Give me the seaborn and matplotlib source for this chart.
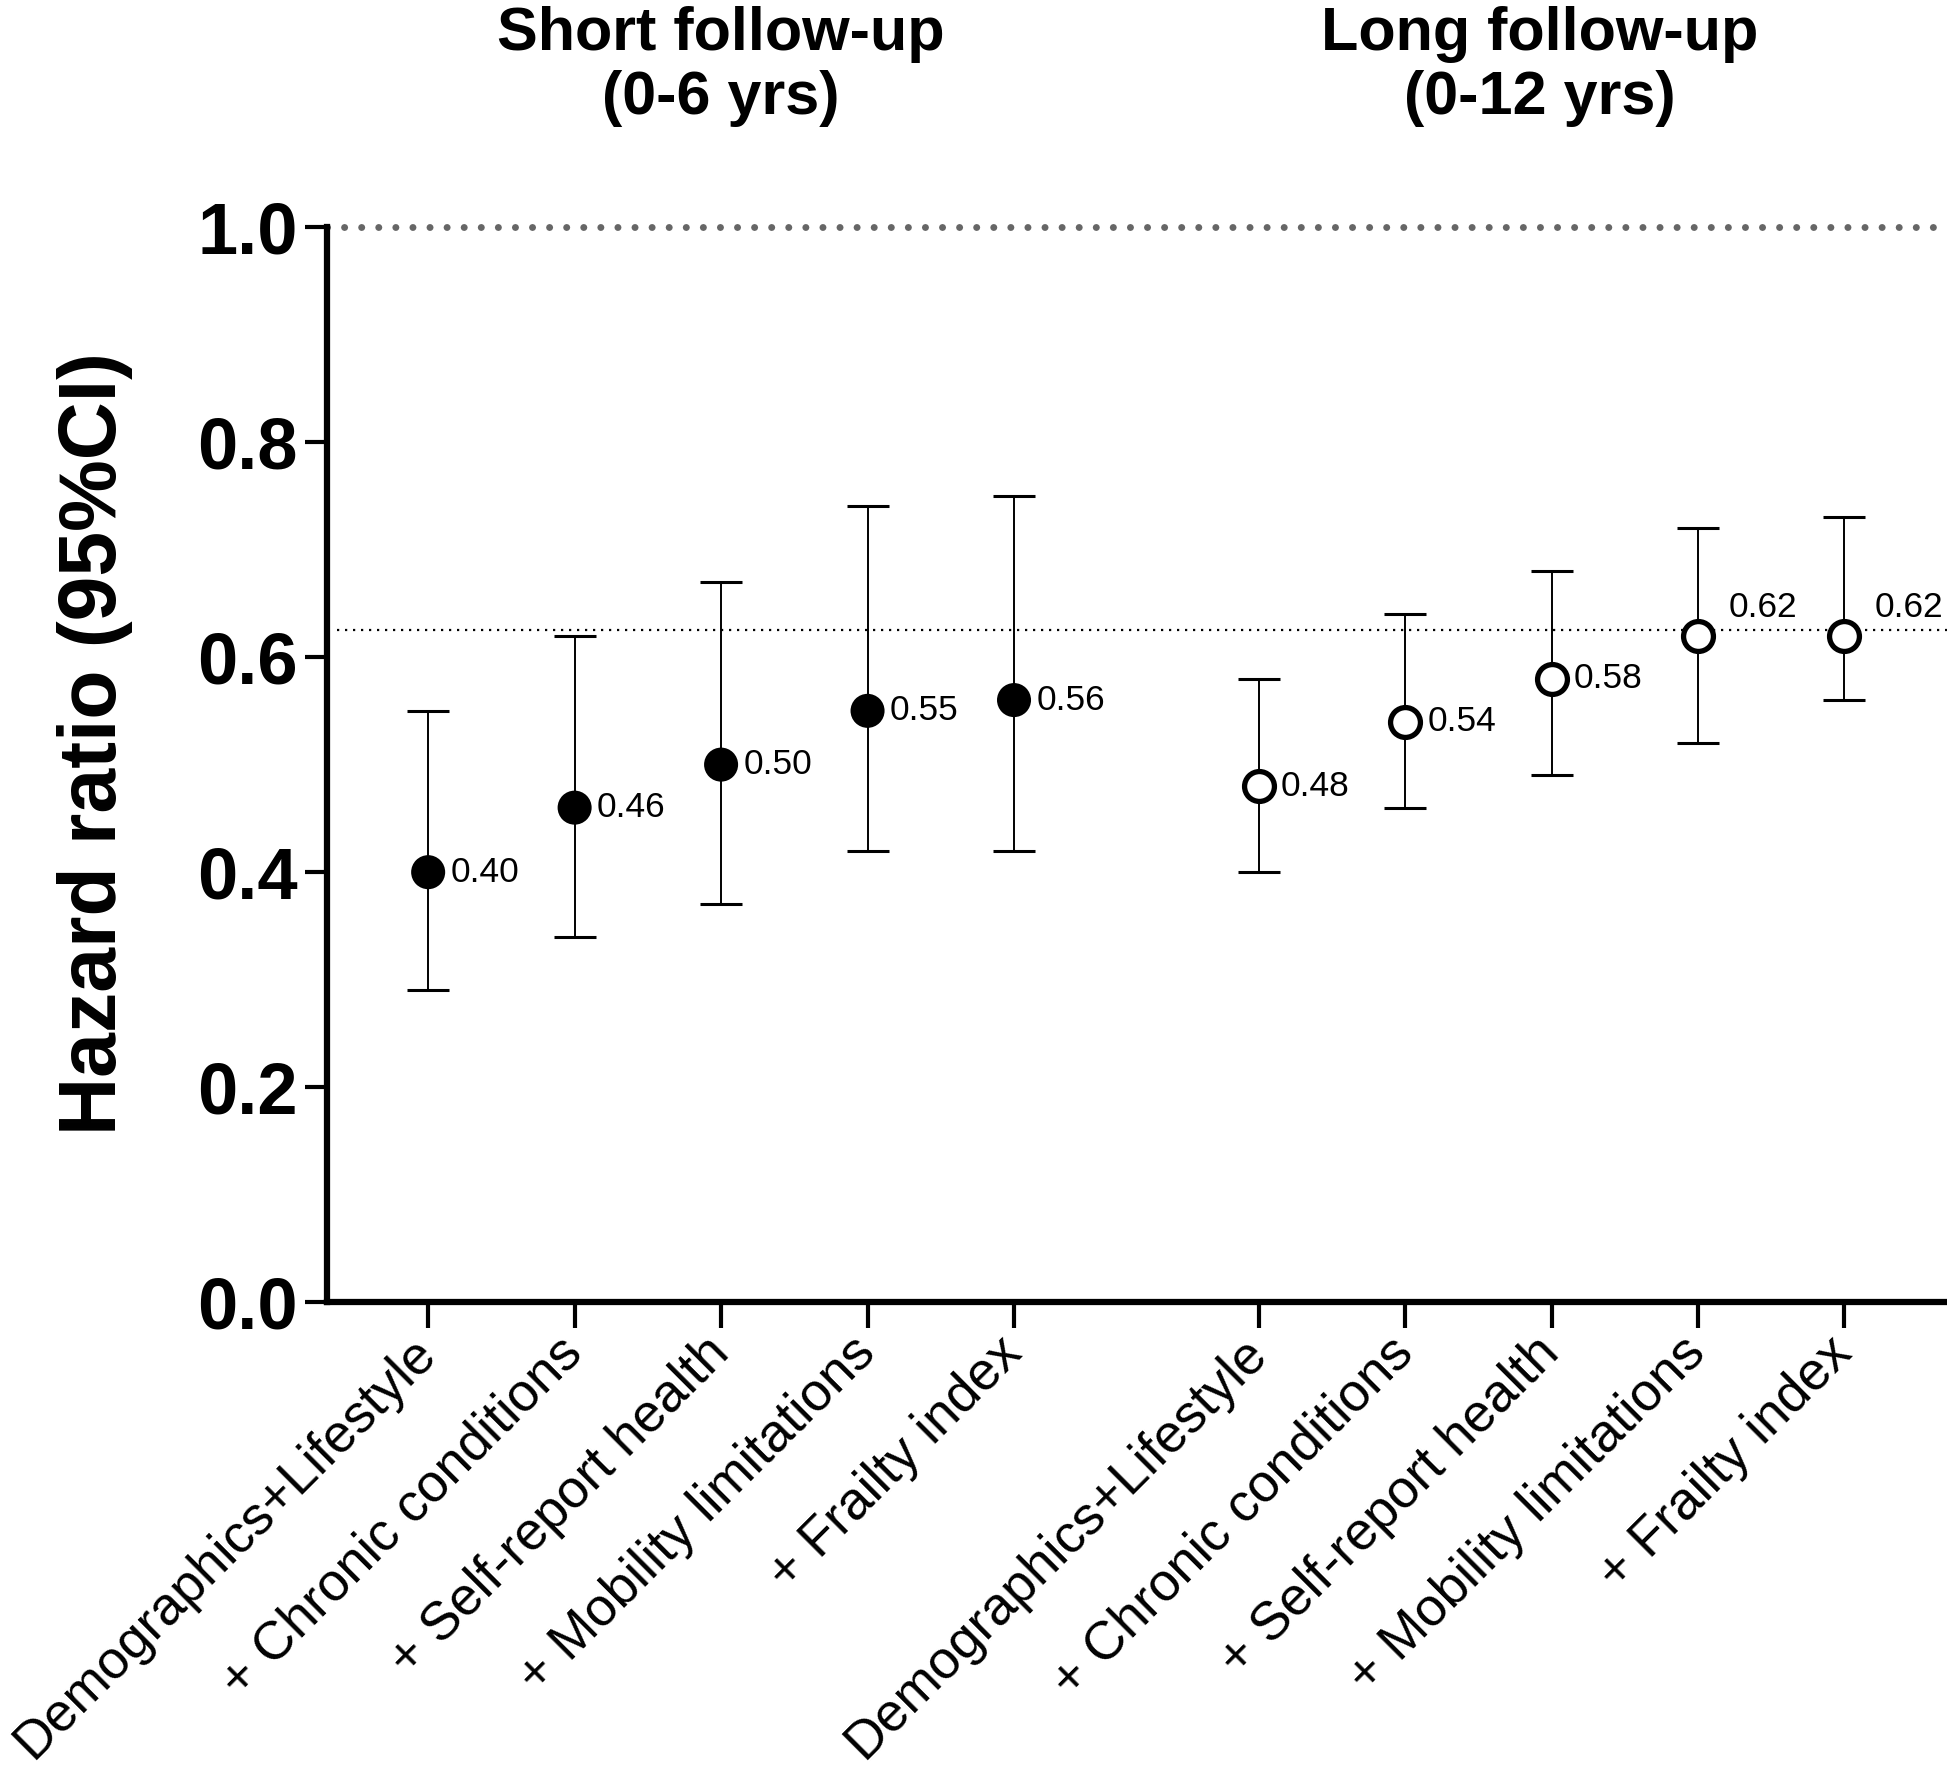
import matplotlib
matplotlib.use("Agg")
import matplotlib.pyplot as plt
import matplotlib.transforms as mtransforms
from matplotlib import font_manager
import seaborn as sns
import pandas as pd
import numpy as np

# Data
models = ["Demographics+Lifestyle", "+ Chronic conditions", "+ Self-report health",
          "+ Mobility limitations", "+ Frailty index"]
short_hr = [0.40, 0.46, 0.50, 0.55, 0.56]
short_lo = [0.29, 0.34, 0.37, 0.42, 0.42]
short_hi = [0.55, 0.62, 0.67, 0.74, 0.75]
long_hr = [0.48, 0.54, 0.58, 0.62, 0.62]
long_lo = [0.40, 0.46, 0.49, 0.52, 0.56]
long_hi = [0.58, 0.64, 0.68, 0.72, 0.73]
ref_hr = 0.625
group_titles = ["Short follow-up", "Long follow-up"]
group_periods = ["(0-6 yrs)", "(0-12 yrs)"]

sns.set_style("ticks")
names = {f.name for f in font_manager.fontManager.ttflist}
NARROW = "Liberation Sans Narrow" if "Liberation Sans Narrow" in names else "Liberation Sans"
plt.rcParams["font.family"] = ["Liberation Sans", "DejaVu Sans"]
for key in ["text.color", "axes.labelcolor", "xtick.color", "ytick.color", "axes.edgecolor"]:
    plt.rcParams[key] = "black"

gap = 1.67
n = len(models)
pos_short = np.arange(n)
pos_long = np.arange(n) + n - 1 + gap

df = pd.concat([
    pd.DataFrame({"x": pos_short, "hr": short_hr, "lo": short_lo, "hi": short_hi,
                  "group": "short", "label": models}),
    pd.DataFrame({"x": pos_long, "hr": long_hr, "lo": long_lo, "hi": long_hi,
                  "group": "long", "label": models}),
], ignore_index=True)

fig = plt.figure(figsize=(19.47, 17.72), dpi=100)
ax = fig.add_axes([0.168, 0.265, 0.832, 0.607])

# confidence intervals
ax.errorbar(df["x"], df["hr"], yerr=[df["hr"] - df["lo"], df["hi"] - df["hr"]],
            fmt="none", ecolor="black", elinewidth=1.4, capsize=15, capthick=2.2, zorder=2)

# points
sns.scatterplot(data=df[df.group == "short"], x="x", y="hr", s=24.5 ** 2, color="black",
                edgecolor="none", ax=ax, zorder=3, legend=False)
sns.scatterplot(data=df[df.group == "long"], x="x", y="hr", s=21.5 ** 2, color="white",
                edgecolor="black", linewidth=3.8, ax=ax, zorder=3, legend=False)

# value labels
for _, r in df.iterrows():
    if r.hr >= 0.6:
        off = (22, 20)
    else:
        off = (16, 0)
    ax.annotate(f"{r.hr:.2f}", (r.x, r.hr), xytext=off, textcoords="offset points",
                ha="left", va="center", fontsize=25.5, family=[NARROW, "DejaVu Sans"], zorder=4)

# reference lines
ax.axhline(1.0, color="#666666", lw=5, ls=(0, (0.01, 2.45)), dash_capstyle="round",
           clip_on=False, zorder=1)
ax.plot([-0.62, 10.5], [ref_hr, ref_hr], color="black", lw=1.6, ls=(0, (1, 2.6)), zorder=1)

ax.set_xlim(-0.69, 10.37)
ax.set_ylim(0, 1.0)
ax.set_yticks(np.arange(0, 1.01, 0.2))
ax.set_yticklabels([f"{v:.1f}" for v in np.arange(0, 1.01, 0.2)], fontsize=52, fontweight="bold")
ax.set_xticks(df["x"])
ax.set_xticklabels(df["label"], rotation=45, ha="right", va="center",
                   rotation_mode="anchor", fontsize=38.5)
ax.tick_params(axis="y", length=16, width=3, pad=5)
ax.tick_params(axis="x", length=19, width=3, pad=12)
sns.despine(ax=ax, top=True, right=True)
ax.spines["left"].set_linewidth(4.5)
ax.spines["bottom"].set_linewidth(4.5)
ax.set_xlabel("")
ax.set_ylabel("Hazard ratio (95%CI)", fontsize=58, fontweight="bold",
              family=[NARROW, "DejaVu Sans"])
ax.yaxis.set_label_coords(-0.12, 0.52)

# group titles
trans = mtransforms.blended_transform_factory(ax.transData, fig.transFigure)
centers = [pos_short.mean(), pos_long.mean() - 0.08]
for cx, t1, t2 in zip(centers, group_titles, group_periods):
    ax.text(cx, 0.972, t1, transform=trans, ha="center", va="baseline",
            fontsize=44, fontweight="bold")
    ax.text(cx, 0.9355, t2, transform=trans, ha="center", va="baseline",
            fontsize=44, fontweight="bold")

fig.savefig("out.png", dpi=100)
